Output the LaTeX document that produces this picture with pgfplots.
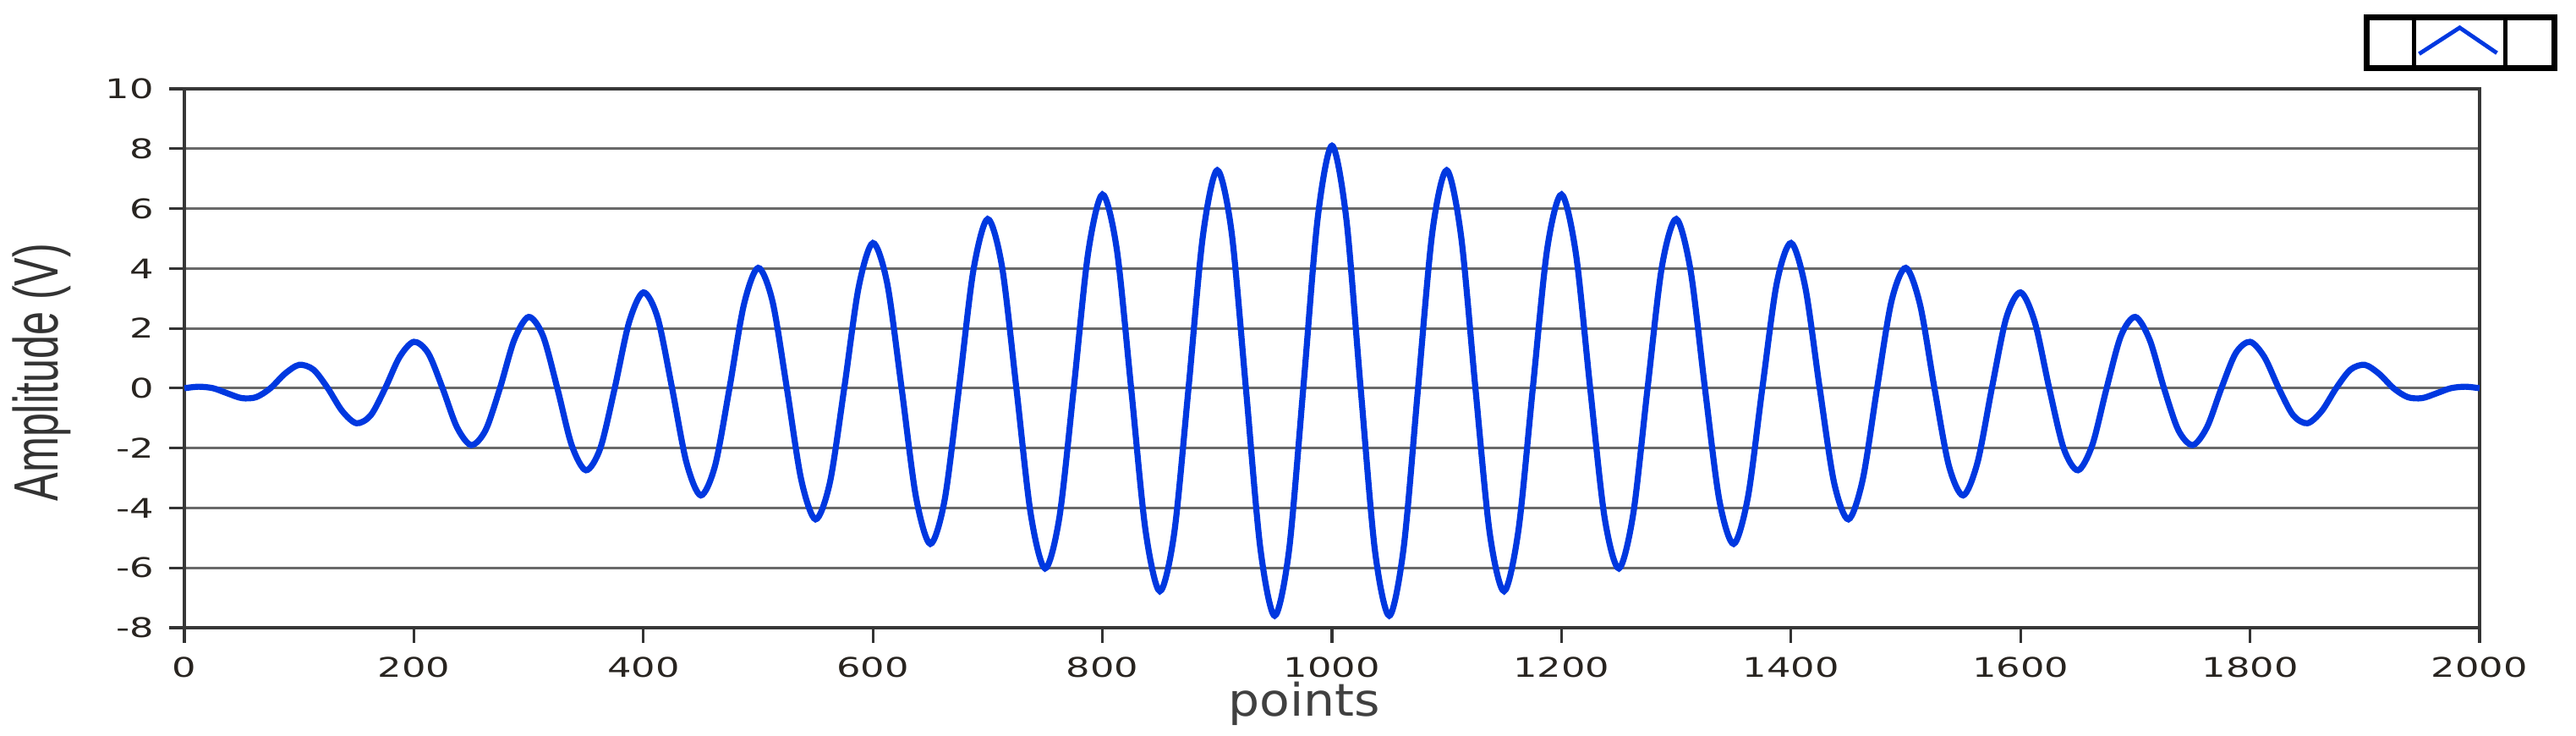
\documentclass[border=0pt]{standalone}
\usepackage{pgfplots}
\pgfplotsset{compat=1.18}
\usepackage{fontspec}
\usepackage{graphicx}
\setmainfont{DejaVu Sans}
\newfontfamily\labfont{Liberation Sans}
\definecolor{sig}{RGB}{0,56,224}
\definecolor{gridc}{RGB}{105,105,105}
\definecolor{axc}{RGB}{55,55,55}
\definecolor{tickc}{RGB}{40,36,32}
\begin{document}
\begin{tikzpicture}
\useasboundingbox (-54.5pt,-31.75pt) rectangle (707pt,185.5pt);
\begin{axis}[
  at={(0pt,0pt)}, anchor=south west,
  scale only axis, width=678.5pt, height=159.25pt,
  xmin=0, xmax=2000, ymin=-8, ymax=10,
  xtick={0,200,...,2000}, ytick={-8,-6,...,10},
  tick pos=left, tick align=outside, major tick length=4.5pt,
  ymajorgrids, grid style={gridc, line width=0.8pt},
  axis line style={axc, line width=1pt},
  tick style={black!80, line width=0.8pt},
  /pgf/number format/assume math mode=true,
  /pgf/number format/1000 sep={},
  ticklabel style={font=\fontsize{8}{10}\selectfont, text=tickc},
  xticklabel={\scalebox{1.4}[1]{\pgfmathprintnumber{\tick}}},
  yticklabel={\scalebox{1.4}[1]{\pgfmathprintnumber{\tick}}},
  xticklabel style={yshift=-0.6pt},
  yticklabel style={xshift=-1pt},
  xlabel={\scalebox{1.1}[1]{points}},
  xlabel style={at={(axis description cs:0.488,-0.1648)}, anchor=base, font=\fontsize{13.3}{16}\selectfont, text=black!75},
  ylabel={\scalebox{0.68}[1]{\labfont\fontsize{18.5}{20}\selectfont Amplitude (V)}},
  ylabel style={at={(axis description cs:-0.062,0.474)}, anchor=center, text=black!80},
  legend style={at={(axis description cs:1.0354,1.138)}, anchor=north east, draw=none, fill=none, inner sep=0pt, outer sep=0pt, nodes={inner sep=0pt, outer sep=0pt}, column sep=0pt},
  legend image code/.code={
    \draw[black, line width=1.8pt] (0pt,-7.5pt) rectangle (55.5pt,7.5pt);
    \draw[black, line width=1.4pt] (14pt,-7pt) -- (14pt,7pt);
    \draw[black, line width=1.4pt] (41pt,-7pt) -- (41pt,7pt);
    \draw[sig, line width=1.2pt] (15.5pt,-3.25pt) -- (27.5pt,4.5pt) -- (38.5pt,-3pt);
  },
]
\addplot[sig, line width=1.8pt, smooth] coordinates {
(0,0) (12.5,0.05) (25,0) (37.5,-0.17) (50,-0.33) (62.5,-0.30) (75,0) (87.5,0.48)
(100,0.78) (112.5,0.62) (125,0) (137.5,-0.76) (150,-1.17) (162.5,-0.90) (175,0) (187.5,1.04)
(200,1.55) (212.5,1.17) (225,0) (237.5,-1.30) (250,-1.90) (262.5,-1.40) (275,0) (287.5,1.62)
(300,2.38) (312.5,1.75) (325,0) (337.5,-1.90) (350,-2.74) (362.5,-2.00) (375,0) (387.5,2.20)
(400,3.20) (412.5,2.34) (425,0) (437.5,-2.48) (450,-3.58) (462.5,-2.58) (475,0) (487.5,2.78)
(500,4.02) (512.5,2.90) (525,0) (537.5,-3.05) (550,-4.38) (562.5,-3.15) (575,0) (587.5,3.36)
(600,4.85) (612.5,3.49) (625,0) (637.5,-3.63) (650,-5.20) (662.5,-3.73) (675,0) (687.5,3.93)
(700,5.65) (712.5,4.06) (725,0) (737.5,-4.20) (750,-6.02) (762.5,-4.31) (775,0) (787.5,4.51)
(800,6.47) (812.5,4.64) (825,0) (837.5,-4.74) (850,-6.78) (862.5,-4.85) (875,0) (887.5,5.08)
(900,7.28) (912.5,5.22) (925,0) (937.5,-5.32) (950,-7.60) (962.5,-5.44) (975,0) (987.5,5.66)
(1000,8.10)
(1012.5,5.66) (1025,0) (1037.5,-5.44) (1050,-7.60) (1062.5,-5.32) (1075,0) (1087.5,5.22)
(1100,7.28) (1112.5,5.08) (1125,0) (1137.5,-4.85) (1150,-6.78) (1162.5,-4.74) (1175,0) (1187.5,4.64)
(1200,6.47) (1212.5,4.51) (1225,0) (1237.5,-4.31) (1250,-6.02) (1262.5,-4.20) (1275,0) (1287.5,4.06)
(1300,5.65) (1312.5,3.93) (1325,0) (1337.5,-3.73) (1350,-5.20) (1362.5,-3.63) (1375,0) (1387.5,3.49)
(1400,4.85) (1412.5,3.36) (1425,0) (1437.5,-3.15) (1450,-4.38) (1462.5,-3.05) (1475,0) (1487.5,2.90)
(1500,4.02) (1512.5,2.78) (1525,0) (1537.5,-2.58) (1550,-3.58) (1562.5,-2.48) (1575,0) (1587.5,2.34)
(1600,3.20) (1612.5,2.20) (1625,0) (1637.5,-2.00) (1650,-2.74) (1662.5,-1.90) (1675,0) (1687.5,1.75)
(1700,2.38) (1712.5,1.62) (1725,0) (1737.5,-1.40) (1750,-1.90) (1762.5,-1.30) (1775,0) (1787.5,1.17)
(1800,1.55) (1812.5,1.04) (1825,0) (1837.5,-0.90) (1850,-1.17) (1862.5,-0.76) (1875,0) (1887.5,0.62)
(1900,0.78) (1912.5,0.48) (1925,0) (1937.5,-0.30) (1950,-0.33) (1962.5,-0.17) (1975,0) (1987.5,0.05)
(2000,0)
};
\addlegendentry{}
\end{axis}
\end{tikzpicture}
\end{document}
